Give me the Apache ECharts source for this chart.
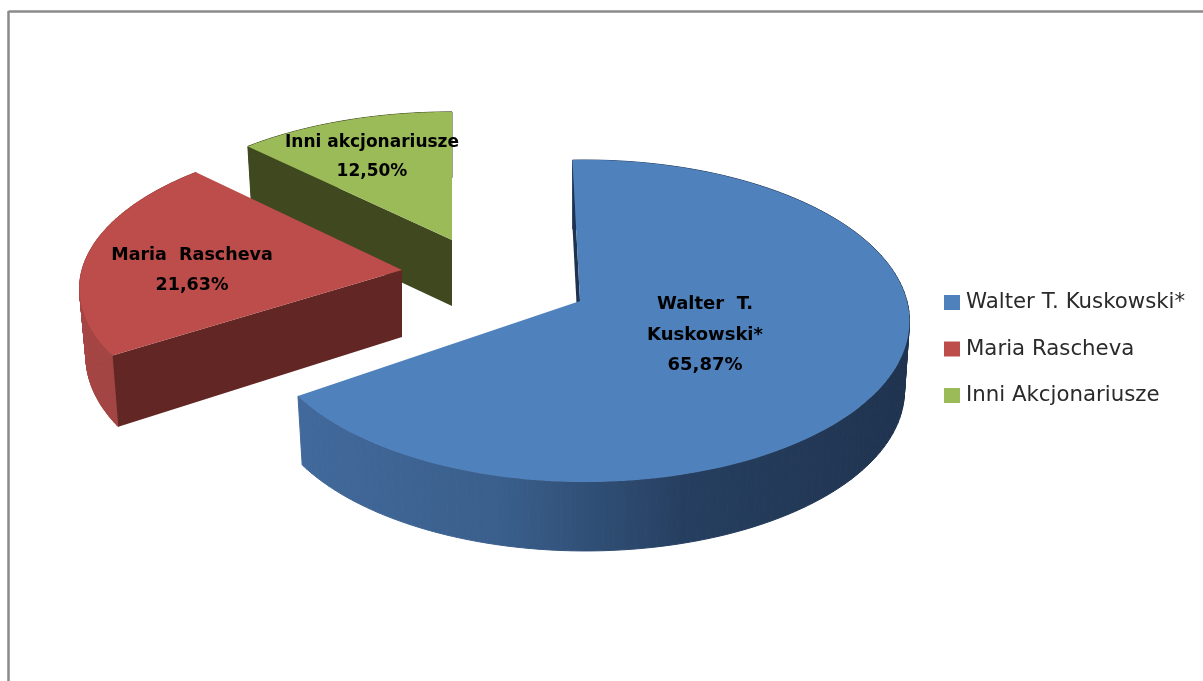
<!DOCTYPE html>
<html><head><meta charset="utf-8">
<style>html,body{margin:0;padding:0;background:#fff}#c{width:1203px;height:681px;filter:blur(.6px)}</style>
<script src="https://cdn.jsdelivr.net/npm/echarts@6/dist/echarts.min.js"></script>
</head><body><div id="c"></div>
<script>
const legendNames = ['Walter T. Kuskowski*', 'Maria Rascheva', 'Inni Akcjonariusze'];
const labelNames = ['Walter  T.\nKuskowski*', 'Maria  Rascheva', 'Inni akcjonariusze'];
const shares = [65.87, 21.63, 12.50];
const topColors = ['#4F81BD', '#BC4D4A', '#9BBB59'];
const edgeColors = ['#1F3350', '#622624', '#3F481F'];

// perspective view of each exploded slice
const views = [
  {cx:580, cy:301, R:322, Rv:158.5, k:.124, m:.015, rot:-1.5, depth:69, sx:.985, sy:1, lx:705, ly:335, lh:30.5, fs:18,
   wall:[[0,'#41699B'],[.33,'#3A5F8C'],[.63,'#263F60'],[1,'#1F334F']], z:3},
  {cx:402, cy:270, R:320, Rv:149, k:.124, m:0, rot:.5, depth:67, sx:.98, sy:1.05, lx:192, ly:270, lh:30, fs:17.5,
   wall:[[0,'#A64644'],[1,'#963E3C']], z:2},
  {cx:452, cy:240, R:314, Rv:144, k:.124, m:0, rot:0, depth:66, sx:.98, sy:1, lx:372, ly:157.5, lh:29, fs:17,
   wall:[[0,'#3F481F'],[1,'#3F481F']], z:1}
];

const total = shares.reduce((a, b) => a + b, 0);
const projector = v => deg => {
  const t = (deg + v.rot) * Math.PI / 180, X = Math.sin(t), Y = Math.cos(t), w = 1 + v.k * Y - v.m * X;
  return [v.R * X / w, -v.Rv * Y / w];
};

function makeRender(i) {
  return function (params, api) {
    const v = views[i], P = projector(v);
    let before = 0;
    for (let j = 0; j < i; j++) before += shares[j];
    const a0 = before / total * 360, a1 = a0 + api.value(0) / total * 360;
    const top = p => [v.cx + p[0], v.cy + p[1]];
    const bot = p => [v.cx + p[0] * v.sx, v.cy + v.depth + p[1] * v.sy];
    const arc = [];
    const N = 140;
    for (let s = 0; s <= N; s++) arc.push(P(a0 + (a1 - a0) * s / N));
    const tops = arc.map(top), bots = arc.map(bot);
    const xs = tops.concat(bots).map(p => p[0]);
    const grad = new echarts.graphic.LinearGradient(Math.min.apply(null, xs), 0, Math.max.apply(null, xs), 0,
      v.wall.map(s => ({offset:s[0], color:s[1]})), true);
    const strips = [];
    for (let s = 0; s < N; s++) {
      strips.push({type:'polygon', shape:{points:[tops[s], tops[s+1], bots[s+1], bots[s]]},
        style:{fill:grad, stroke:grad, lineWidth:1}});
    }
    const face = [[v.cx, v.cy]].concat(tops);
    const edge = [[v.cx, v.cy], tops[0], bots[0], [v.cx, v.cy + v.depth]];
    const pct = api.value(0).toFixed(2).replace('.', ',') + '%';
    return {
      type: 'group',
      children: strips.concat([
        {type:'polygon', shape:{points:edge}, style:{fill:edgeColors[i]}},
        {type:'polygon', shape:{points:face}, style:{fill:topColors[i]}},
        {type:'text', style:{x:v.lx, y:v.ly, text:labelNames[i] + '\n' + pct, align:'center', verticalAlign:'middle',
          font:'bold ' + v.fs + 'px "DejaVu Sans"', lineHeight:v.lh, fill:'#000'}}
      ])
    };
  };
}

const chart = echarts.init(document.getElementById('c'), null, {renderer:'canvas'});
chart.setOption({
  animation:false,
  backgroundColor:'#fff',
  legend:{orient:'vertical', left:944, top:292, padding:0, itemWidth:16, itemHeight:15, itemGap:25.5, icon:'rect',
    data:legendNames, selectedMode:false,
    textStyle:{fontFamily:'DejaVu Sans', fontSize:21.3, lineHeight:15, color:'#2a2a2a', padding:[0,0,0,1]}},
  graphic:[
    {type:'line', shape:{x1:8.5,y1:11.5,x2:1203,y2:11.5}, style:{stroke:'#8a8a8a',lineWidth:2.5}},
    {type:'line', shape:{x1:8.5,y1:11,x2:8.5,y2:681}, style:{stroke:'#8a8a8a',lineWidth:2.5}}
  ],
  series: legendNames.map((n, i) => ({
    type:'custom', name:n, coordinateSystem:'none', z:views[i].z,
    itemStyle:{color:topColors[i]}, data:[[shares[i]]], renderItem:makeRender(i), silent:true
  }))
});
</script></body></html>
